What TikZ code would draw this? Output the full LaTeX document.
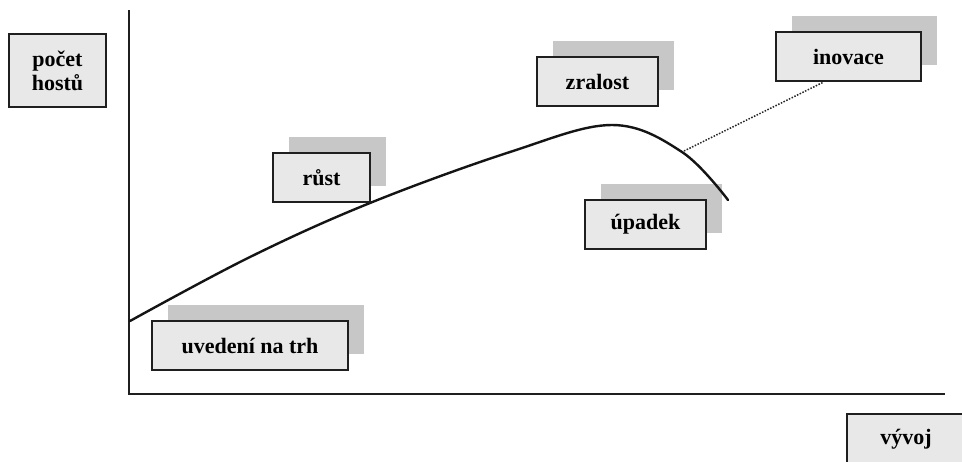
\documentclass[tikz,border=0pt]{standalone}
\usepackage{fontspec}
\setmainfont{Liberation Serif}
\pgfdeclarelayer{background}
\pgfsetlayers{background,main}
\begin{document}
\begin{tikzpicture}[x=1pt,y=-1pt,
  boxfill/.style={fill=black!9},
  label box/.style={draw=black!88, line width=2.2pt, boxfill, inner sep=0pt,
    font=\bfseries\fontsize{22}{24}\selectfont, align=center, text=black},
  shade/.style={fill=black!22},
  axis/.style={draw=black!88, line width=1.8pt},
  curve/.style={draw=black!92, line width=2.4pt, line cap=round},
  link/.style={draw=black!85, line width=1.5pt, dash pattern=on 1.5pt off 1.5pt}]
\useasboundingbox (0,0) rectangle (962,461);
\clip (0,0) rectangle (962,461);

% axes
\coordinate (ytop) at (129,10);
\coordinate (orig) at (129,394);
\coordinate (xend) at (945,394);
\draw[axis] (ytop) -- (orig) -- (xend);

% life-cycle curve
\draw[curve] plot[smooth, tension=0.6] coordinates
  {(130,321) (250,257) (370,203) (510,152) (612,125) (682,152) (728,200)};
\coordinate (decl) at (684,151);

% stage labels
\node[label box, minimum width=97pt, minimum height=73pt] (pocet) at (57.5,70.5) {počet\\hostů};
\node[label box, minimum width=97pt, minimum height=49pt] (rust) at (321.5,177.5) {růst};
\node[label box, minimum width=121pt, minimum height=49pt] (zralost) at (597.5,81.5) {zralost};
\node[label box, minimum width=121pt, minimum height=49pt] (upadek) at (645.5,224.5) {úpadek};
\node[label box, minimum width=196pt, minimum height=49pt] (uvedeni) at (250,345.5) {uvedení na trh};
\node[label box, minimum width=145pt, minimum height=49pt] (inovace) at (848.5,56.5) {inovace};
\node[label box, minimum width=118pt, minimum height=50pt] (vyvoj) at (906,439) {vývoj};

% offset shadows behind the stage labels
\begin{pgfonlayer}{background}
\fill[white] (0,0) rectangle (962,461);
\foreach \b in {rust,zralost,upadek,uvedeni,inovace}
  \fill[shade] ([shift={(17,-17)}]\b.south west) rectangle ([shift={(15,-15)}]\b.north east);
\end{pgfonlayer}

% innovation branch
\draw[link] (decl) -- ([xshift=-25pt]inovace.south);
\end{tikzpicture}
\end{document}
